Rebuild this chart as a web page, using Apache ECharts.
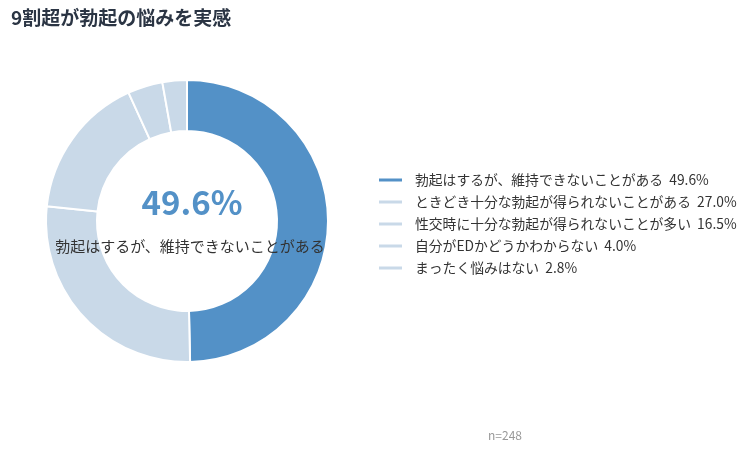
<!DOCTYPE html>
<html>
<head>
<meta charset="utf-8">
<script src="https://cdn.jsdelivr.net/npm/echarts@6/dist/echarts.min.js"></script>
<style>
  html, body { margin: 0; padding: 0; background: #fff; }
  #chart { width: 753px; height: 450px; }
</style>
</head>
<body>
<div id="chart"></div>
<script>
var labels = ['勃起はするが、維持できないことがある', 'ときどき十分な勃起が得られないことがある', '性交時に十分な勃起が得られないことが多い', '自分がEDかどうかわからない', 'まったく悩みはない'];
var values = [49.6, 27.0, 16.5, 4.0, 2.8];
var colors = ['#5391c7', '#c9d9e8', '#c9d9e8', '#c9d9e8', '#c9d9e8'];

var font = '"Noto Sans CJK JP", "Noto Sans", sans-serif';
var chart = echarts.init(document.getElementById('chart'));

var pieData = [];
for (var i = 0; i < labels.length; i++) {
    pieData.push({ name: labels[i], value: values[i], itemStyle: { color: colors[i] } });
}

var option = {
    animation: false,
    textStyle: { fontFamily: font },
    title: [
        {
            text: '9割超が勃起の悩みを実感',
            left: 6, top: 3,
            textStyle: { fontSize: 19, fontWeight: 'bold', color: '#2b3544', fontFamily: font }
        },
        {
            text: values[0].toFixed(1) + '%',
            left: 187, top: 181, textAlign: 'center',
            textStyle: { fontSize: 33, fontWeight: 'bold', color: '#5391c7', fontFamily: font }
        },
        {
            text: labels[0],
            left: 185, top: 234, textAlign: 'center',
            textStyle: { fontSize: 15, fontWeight: 'normal', color: '#333', fontFamily: font }
        },
        {
            text: 'n=248',
            left: 500, top: 424, textAlign: 'center',
            textStyle: { fontSize: 12, fontWeight: 'normal', color: '#999', fontFamily: font }
        }
    ],
    legend: {
        orient: 'vertical',
        left: 372, top: 167,
        itemWidth: 25, itemHeight: 5, itemGap: 6,
        icon: 'rect',
        textStyle: { fontSize: 13.8, lineHeight: 16, color: '#333', fontFamily: font, padding: [0, 0, 0, 7] },
        formatter: function (name) {
            var idx = labels.indexOf(name);
            return name + '  ' + values[idx].toFixed(1) + '%';
        },
        data: labels
    },
    series: [{
        type: 'pie',
        center: [187, 221],
        radius: [90, 141],
        startAngle: 90,
        clockwise: true,
        label: { show: false },
        labelLine: { show: false },
        itemStyle: { borderColor: '#fff', borderWidth: 2 },
        emphasis: { disabled: true },
        data: pieData
    }]
};
chart.setOption(option);
</script>
</body>
</html>
